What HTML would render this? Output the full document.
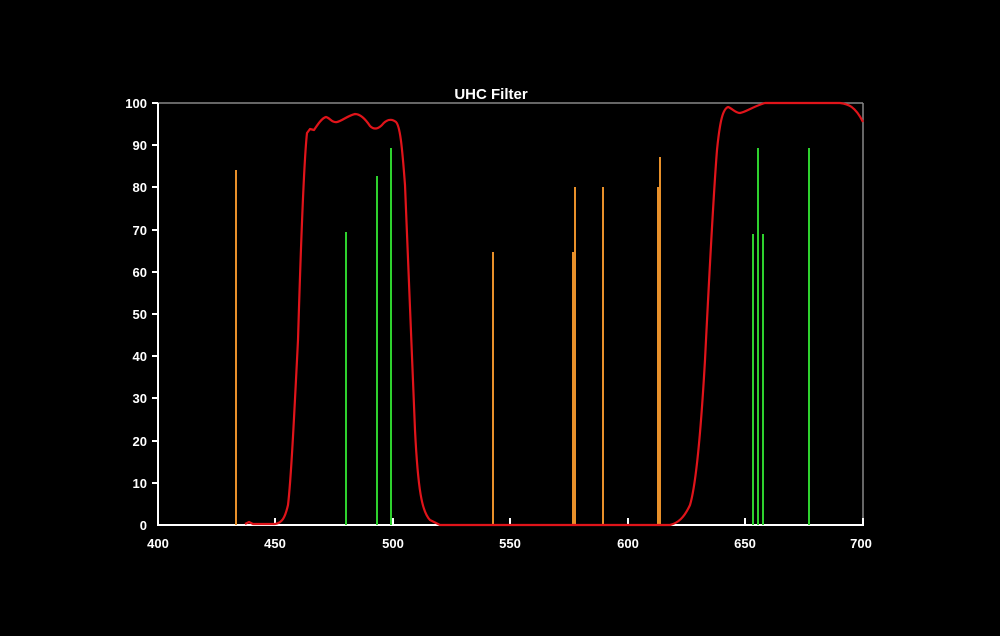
<!DOCTYPE html>
<html><head><style>
html,body{margin:0;padding:0;background:#000;width:1000px;height:636px;overflow:hidden}
text{font-family:"Liberation Sans",sans-serif;font-weight:bold;fill:#fff}
</style></head><body>
<svg width="1000" height="636" xmlns="http://www.w3.org/2000/svg">
<rect width="1000" height="636" fill="#000"/>
<text x="491" y="99" font-size="15" text-anchor="middle">UHC Filter</text>
<line x1="158" y1="103" x2="863" y2="103" stroke="#888" stroke-width="1.5"/>
<line x1="863" y1="103" x2="863" y2="525" stroke="#888" stroke-width="1.5"/>
<line x1="158" y1="103" x2="158" y2="526" stroke="#fff" stroke-width="2"/>
<line x1="157" y1="525" x2="864" y2="525" stroke="#fff" stroke-width="2"/>
<g stroke="#fff" stroke-width="2">
<line x1="152" y1="103" x2="158" y2="103"/><line x1="152" y1="145" x2="158" y2="145"/>
<line x1="152" y1="187" x2="158" y2="187"/><line x1="152" y1="230" x2="158" y2="230"/>
<line x1="152" y1="272" x2="158" y2="272"/><line x1="152" y1="314" x2="158" y2="314"/>
<line x1="152" y1="356" x2="158" y2="356"/><line x1="152" y1="398" x2="158" y2="398"/>
<line x1="152" y1="441" x2="158" y2="441"/><line x1="152" y1="483" x2="158" y2="483"/>
<line x1="275" y1="518" x2="275" y2="525"/><line x1="393" y1="518" x2="393" y2="525"/>
<line x1="510" y1="518" x2="510" y2="525"/><line x1="628" y1="518" x2="628" y2="525"/>
<line x1="745" y1="518" x2="745" y2="525"/><line x1="863" y1="518" x2="863" y2="525"/>
</g>
<g font-size="13" text-anchor="end">
<text x="147" y="108">100</text><text x="147" y="150">90</text><text x="147" y="192">80</text>
<text x="147" y="235">70</text><text x="147" y="277">60</text><text x="147" y="319">50</text>
<text x="147" y="361">40</text><text x="147" y="403">30</text><text x="147" y="446">20</text>
<text x="147" y="488">10</text><text x="147" y="530">0</text>
</g>
<g font-size="13" text-anchor="middle">
<text x="158" y="548">400</text><text x="275" y="548">450</text><text x="393" y="548">500</text>
<text x="510" y="548">550</text><text x="628" y="548">600</text><text x="745" y="548">650</text>
<text x="861" y="548">700</text>
</g>
<g stroke="#e8902a" stroke-width="2">
<line x1="236" y1="170" x2="236" y2="525"/><line x1="493" y1="252" x2="493" y2="525"/>
<line x1="573" y1="252" x2="573" y2="525"/><line x1="575" y1="187" x2="575" y2="525"/>
<line x1="603" y1="187" x2="603" y2="525"/><line x1="658" y1="187" x2="658" y2="525"/>
<line x1="660" y1="157" x2="660" y2="525"/>
</g>
<g stroke="#2ed12e" stroke-width="2">
<line x1="346" y1="232" x2="346" y2="525"/><line x1="377" y1="176" x2="377" y2="525"/>
<line x1="391" y1="148" x2="391" y2="525"/><line x1="753" y1="234" x2="753" y2="525"/>
<line x1="758" y1="148" x2="758" y2="525"/><line x1="763" y1="234" x2="763" y2="525"/>
<line x1="809" y1="148" x2="809" y2="525"/>
</g>
<path fill="none" stroke="#e0141a" stroke-width="2.2" stroke-linejoin="round"
d="M245,524 L249,522 L253,524 L275,524 C282,523 285,518 288,505 C291,480 294,420 298,340 C301,240 304,160 307,133 L310,129 L314,130 C318,124 322,118 326,117 C330,118 332,123 337,122 C342,121 347,116 355,114 C361,114 366,120 370,126 C374,130 378,129 382,125 C386,120 391,118 396,122 C400,126 402,145 405,185 C408,250 411,340 415,430 C418,490 422,512 430,520 L440,525 L670,525 C678,523 684,518 690,505 C696,485 701,430 705,360 C709,280 713,200 717,150 C720,120 723,109 728,107 C732,108 735,113 740,113 C746,112 752,107 765,103 L840,103 C848,104 855,106 863,122"/>
</svg>
</body></html>
